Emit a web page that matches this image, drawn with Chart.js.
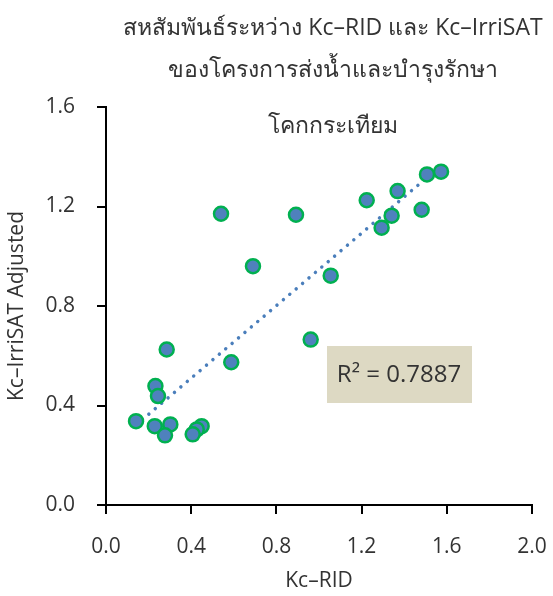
<!DOCTYPE html>
<html>
<head>
<meta charset="utf-8">
<script src="https://cdn.jsdelivr.net/npm/chart.js@4.4.1/dist/chart.umd.min.js"></script>
<style>
  html, body { margin: 0; padding: 0; background: #fff; }
  #wrap { width: 553px; height: 596px; }
</style>
</head>
<body>
<div id="wrap"><canvas id="chart" width="553" height="596"></canvas></div>
<script>
// Chart text
const titleLines = [
  'สหสัมพันธ์ระหว่าง Kc–RID และ Kc–IrriSAT',
  'ของโครงการส่งน้ำและบำรุงรักษา',
  'โคกกระเทียม',
];
const xTitle = 'Kc–RID';
const yTitle = 'Kc–IrriSAT Adjusted';
const rSquaredLabel = 'R² = 0.7887';

// Points
const kcRid = [
  0.540, 0.892, 0.690, 1.055, 1.224, 1.369, 1.341, 1.294, 1.482, 1.507, 1.573,
  0.961, 0.285, 0.588, 0.232, 0.244, 0.141, 0.229, 0.302, 0.277, 0.449, 0.426, 0.407,
];
const kcIrriSat = [
  1.171, 1.167, 0.960, 0.922, 1.225, 1.262, 1.163, 1.115, 1.187, 1.329, 1.340,
  0.665, 0.625, 0.574, 0.478, 0.438, 0.337, 0.317, 0.324, 0.280, 0.317, 0.304, 0.284,
];

// Axis ranges / ticks
const xRange = [0, 2.0];
const yRange = [0, 1.6];
const tickStep = 0.4;

const FONT = '"Open Sans", "Noto Sans", sans-serif';
const TEXT = '#333333';

// Linear least-squares trendline (Excel style, spans min..max x)
const n = kcRid.length;
const mx = kcRid.reduce((a, b) => a + b, 0) / n;
const my = kcIrriSat.reduce((a, b) => a + b, 0) / n;
let sxy = 0, sxx = 0;
kcRid.forEach((x, i) => { sxy += (x - mx) * (kcIrriSat[i] - my); sxx += (x - mx) * (x - mx); });
const slope = sxy / sxx;
const icpt = my - slope * mx;
const xMin = Math.min(...kcRid), xMax = Math.max(...kcRid);
const trend = [xMin, xMax].map(x => ({ x, y: icpt + slope * x }));

// Title + R² label drawn by hand (title sits over the plot top like Excel)
const overlay = {
  id: 'overlay',
  afterDraw(chart) {
    const ctx = chart.ctx;
    ctx.save();
    // R² box
    ctx.fillStyle = '#DDD9C3';
    ctx.fillRect(327, 346, 145, 57);
    ctx.fillStyle = TEXT;
    ctx.font = '24px ' + FONT;
    ctx.textAlign = 'center';
    ctx.textBaseline = 'middle';
    ctx.fillText(rSquaredLabel, 399, 375);
    // Title
    ctx.font = '23px ' + FONT;
    ctx.textBaseline = 'alphabetic';
    const baselines = [35, 77, 133];
    titleLines.forEach((t, i) => ctx.fillText(t, 333, baselines[i]));
    ctx.restore();
  },
};

const axisCommon = {
  type: 'linear',
  grid: { drawOnChartArea: false, drawTicks: true, tickLength: 9, color: '#000', lineWidth: 2 },
  border: { color: '#000', width: 2 },
};

new Chart(document.getElementById('chart'), {
  data: {
    datasets: [
      {
        type: 'scatter',
        data: kcRid.map((x, i) => ({ x, y: kcIrriSat[i] })),
        backgroundColor: '#4F81BD',
        borderColor: '#00B050',
        borderWidth: 2.5,
        pointRadius: 7,
        order: 0,
      },
      {
        type: 'line',
        data: trend,
        borderColor: '#4A7EBB',
        borderWidth: 3.5,
        borderDash: [0.01, 8.4],
        borderCapStyle: 'round',
        pointRadius: 0,
        fill: false,
        order: 1,
      },
    ],
  },
  options: {
    responsive: false,
    animation: false,
    events: [],
    layout: { padding: { top: 107, right: 21, left: 0, bottom: 0 } },
    plugins: { legend: { display: false }, tooltip: { enabled: false }, title: { display: false } },
    scales: {
      x: {
        ...axisCommon,
        min: xRange[0], max: xRange[1],
        ticks: { stepSize: tickStep, padding: 20, color: TEXT, font: { family: FONT, size: 21 },
                 callback: v => Number(v).toFixed(1) },
        title: { display: true, text: xTitle, color: TEXT, font: { family: FONT, size: 21 }, padding: { top: 0, bottom: 2 } },
        afterFit: s => { s.height = 91; s.paddingLeft = 0; s.paddingRight = 0; },
      },
      y: {
        ...axisCommon,
        min: yRange[0], max: yRange[1],
        ticks: { stepSize: tickStep, padding: 22, color: TEXT, font: { family: FONT, size: 21 },
                 callback: v => Number(v).toFixed(1) },
        title: { display: true, text: yTitle, color: TEXT, font: { family: FONT, size: 21 }, padding: { top: 4, bottom: 0 } },
        afterFit: s => { s.width = 106; s.paddingTop = 0; s.paddingBottom = 0; },
      },
    },
  },
  plugins: [overlay],
});
</script>
</body>
</html>
